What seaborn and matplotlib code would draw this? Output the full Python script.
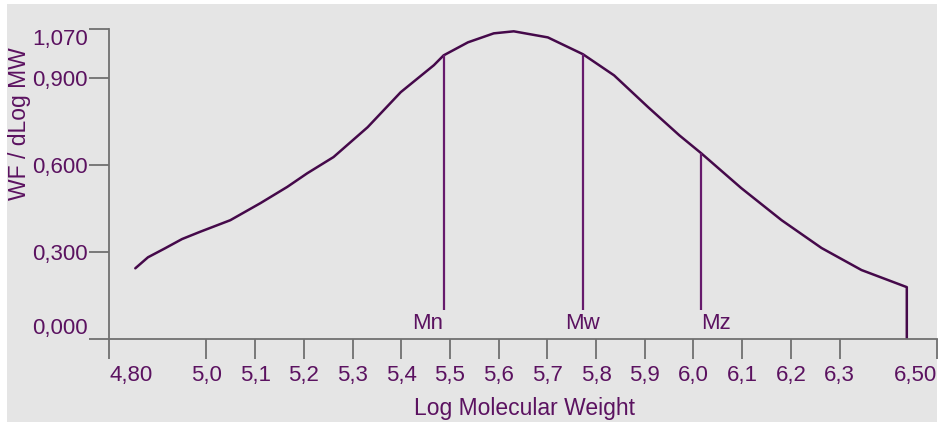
import matplotlib
matplotlib.use("Agg")
import matplotlib.pyplot as plt
from matplotlib.patches import Rectangle
import seaborn as sns
import pandas as pd

# Molecular weight distribution trace (log M vs WF/dLogMW)
log_mw = [4.854, 4.880, 4.915, 4.950, 4.987, 5.049, 5.111, 5.166, 5.207, 5.261,
          5.331, 5.399, 5.467, 5.487, 5.537, 5.590, 5.631, 5.701, 5.773, 5.837,
          5.907, 5.971, 6.016, 6.098, 6.181, 6.263, 6.345, 6.438, 6.438]
wf = [0.244, 0.282, 0.313, 0.345, 0.370, 0.410, 0.469, 0.525, 0.572, 0.628,
      0.731, 0.852, 0.945, 0.979, 1.024, 1.055, 1.062, 1.041, 0.983, 0.910,
      0.800, 0.703, 0.641, 0.521, 0.410, 0.314, 0.238, 0.179, 0.000]

# Molecular weight averages
avg_names = ["Mn", "Mw", "Mz"]
avg_log_mw = [5.487, 5.773, 6.016]
avg_height = [0.979, 0.983, 0.641]
avg_base = 0.10

x_ticks = [4.80, 5.0, 5.1, 5.2, 5.3, 5.4, 5.5, 5.6, 5.7, 5.8, 5.9, 6.0, 6.1, 6.2, 6.3, 6.50]
x_tick_labels = ["4,80", "5,0", "5,1", "5,2", "5,3", "5,4", "5,5", "5,6", "5,7",
                 "5,8", "5,9", "6,0", "6,1", "6,2", "6,3", "6,50"]
y_ticks = [0.0, 0.3, 0.6, 0.9, 1.07]
y_tick_labels = ["0,000", "0,300", "0,600", "0,900", "1,070"]

TEXT = "#5b1260"
CURVE = "#45094a"
MARK = "#661a6c"
AXIS = "#707070"
BG = "#e5e5e5"

sns.set_style("white")
plt.rcParams["font.family"] = ["Liberation Sans", "DejaVu Sans"]

W, H = 941, 426
fig = plt.figure(figsize=(W / 100, H / 100), dpi=100, facecolor="white")
fig.patches.append(Rectangle((7 / W, 4 / H), (937 - 7) / W, (422 - 4) / H,
                             transform=fig.transFigure, facecolor=BG,
                             edgecolor="none", zorder=-10))

left, right = 109 / W, 937 / W
bottom, top = (H - 339) / H, (H - 29) / H
ax = fig.add_axes([left, bottom, right - left, top - bottom])
ax.set_facecolor("none")

df = pd.DataFrame({"log_mw": log_mw, "wf": wf})
sns.lineplot(data=df, x="log_mw", y="wf", sort=False, estimator=None,
             color=CURVE, linewidth=1.8, ax=ax)

ax.vlines(avg_log_mw, avg_base, avg_height, color=MARK, linewidth=1.6)
aligns = ["right", "center", "left"]
for name, xv, ha in zip(avg_names, avg_log_mw, aligns):
    ax.text(xv, 0.052, name, ha=ha, va="center", fontsize=16, color=TEXT)

ax.set_xlim(4.80, 6.50)
ax.set_ylim(0.0, 1.07)

for side in ["top", "right"]:
    ax.spines[side].set_visible(False)
for side in ["left", "bottom"]:
    ax.spines[side].set_color(AXIS)
    ax.spines[side].set_linewidth(1.3)

ax.set_xticks(x_ticks)
ax.set_xticklabels(x_tick_labels)
ax.set_yticks(y_ticks)
ax.set_yticklabels(y_tick_labels)
ax.tick_params(axis="both", direction="out", length=14.4, width=1.3,
               color=AXIS, labelcolor=TEXT, labelsize=16,
               bottom=True, left=True)
ax.tick_params(axis="x", pad=4)
ax.tick_params(axis="y", pad=1)

xl = ax.get_xticklabels()
xl[0].set_horizontalalignment("left")
xl[-1].set_horizontalalignment("right")
yl = ax.get_yticklabels()
yl[0].set_verticalalignment("bottom")
yl[-1].set_verticalalignment("top")

ax.set_xlabel("")
ax.set_ylabel("")
fig.text(524 / W, 1 - 408 / H, "Log Molecular Weight", ha="center", va="center",
         fontsize=16.5, color=TEXT)
fig.text(20 / W, 1 - 124 / H, "WF / dLog MW", ha="center", va="center",
         rotation=90, fontsize=16.5, color=TEXT)

fig.savefig("out.png", dpi=100, facecolor="white")
